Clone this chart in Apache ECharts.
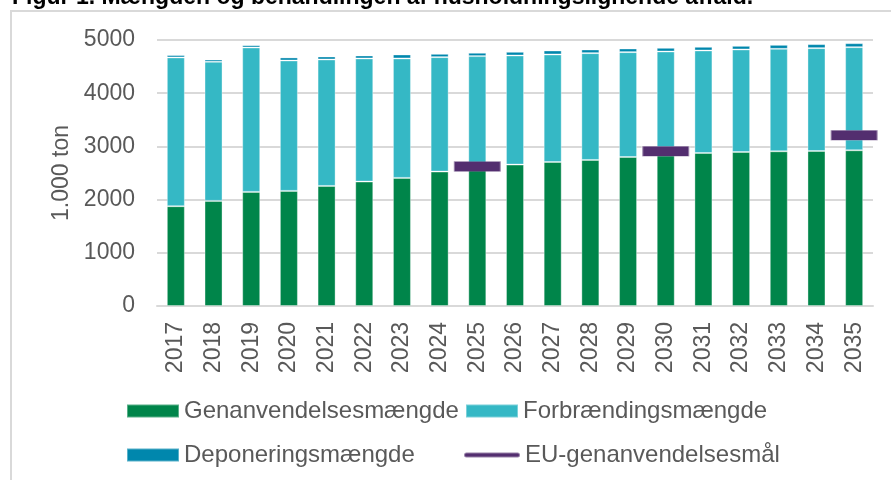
<!DOCTYPE html>
<html>
<head>
<meta charset="utf-8">
<script src="https://cdn.jsdelivr.net/npm/echarts@6/dist/echarts.min.js"></script>
<style>
  html, body { margin: 0; padding: 0; background: #fff; }
  #chart { width: 891px; height: 480px; }
</style>
</head>
<body>
<div id="chart"></div>
<script>
var years = ['2017', '2018', '2019', '2020', '2021', '2022', '2023', '2024', '2025', '2026',
  '2027', '2028', '2029', '2030', '2031', '2032', '2033', '2034', '2035'];
var genanvendelse = [1876, 1976, 2145, 2164, 2257, 2339, 2408, 2527, 2590, 2658,
  2707, 2745, 2801, 2840, 2876, 2895, 2908, 2914, 2927];
var forbraending = [2796, 2615, 2714, 2451, 2377, 2314, 2245, 2151, 2107, 2051,
  2021, 2008, 1971, 1944, 1927, 1927, 1926, 1933, 1938];
var deponering = [45, 43, 43, 57, 56, 56, 75, 62, 63, 69,
  75, 69, 68, 69, 69, 68, 75, 75, 75];
var euMaal = [null, null, null, null, null, null, null, null, 2620, null,
  null, null, null, 2910, null, null, null, null, 3210];

var font = "'Liberation Sans', Arial, sans-serif";
var grey = '#595959';

var chartDom = document.getElementById('chart');
var myChart = echarts.init(chartDom, null, { renderer: 'canvas', devicePixelRatio: 1 });

function legendAt(name, left, top, w, h, icon) {
  return {
    data: [{ name: name, icon: icon || 'rect' }],
    left: left,
    top: top,
    padding: 0,
    itemWidth: w,
    itemHeight: h,
    itemGap: 0,
    selectedMode: false,
    textStyle: { fontFamily: font, fontSize: 24, color: grey, padding: [0, 0, 0, 0] }
  };
}

var barStyle = function (color) {
  return { color: color, borderColor: 'rgba(255,255,255,0.35)', borderWidth: 1 };
};

var option = {
  animation: false,
  backgroundColor: '#fff',
  title: {
    left: 12,
    top: -14,
    padding: 0,
    text: '{b|Figur 1. }{r|Mængden og behandlingen af husholdningslignende affald.}',
    textStyle: {
      rich: {
        b: { fontFamily: font, fontSize: 23, fontWeight: 'bold', color: '#000' },
        r: { fontFamily: font, fontSize: 23, color: '#000' }
      }
    }
  },
  graphic: [{
    type: 'rect',
    z: -1,
    shape: { x: 11, y: 11, width: 900, height: 500 },
    style: { fill: 'none', stroke: '#d9d9d9', lineWidth: 2 }
  }],
  legend: [
    legendAt('Genanvendelsesmængde', 126, 399, 52, 13),
    legendAt('Forbrændingsmængde', 465, 399, 52, 13),
    legendAt('Deponeringsmængde', 126, 443, 52, 13),
    legendAt('EU-genanvendelsesmål', 463, 443, 56, 5,
      'path://M2.5,0H53.5A2.5,2.5,0,0,1,53.5,5H2.5A2.5,2.5,0,0,1,2.5,0Z')
  ],
  grid: { left: 157, right: 18, top: 40, bottom: 174 },
  xAxis: {
    type: 'category',
    data: years,
    axisTick: { show: false },
    axisLine: { lineStyle: { color: '#d9d9d9', width: 2 } },
    axisLabel: { rotate: 90, fontFamily: font, fontSize: 23, color: grey, margin: 16 }
  },
  yAxis: {
    type: 'value',
    min: 0,
    max: 5000,
    interval: 1000,
    name: '1.000 ton',
    nameLocation: 'middle',
    nameRotate: 90,
    nameGap: 80,
    nameTextStyle: { fontFamily: font, fontSize: 23, color: grey },
    axisLine: { show: false },
    axisTick: { show: false },
    axisLabel: {
      fontFamily: font, fontSize: 23, color: grey, margin: 22,
      formatter: function (v) { return String(v); }
    },
    splitLine: { lineStyle: { color: '#d9d9d9', width: 2 } }
  },
  series: [
    {
      name: 'Genanvendelsesmængde',
      type: 'bar',
      stack: 'total',
      barWidth: 18,
      itemStyle: barStyle('#00854A'),
      data: genanvendelse
    },
    {
      name: 'Forbrændingsmængde',
      type: 'bar',
      stack: 'total',
      barWidth: 18,
      itemStyle: barStyle('#35B8C5'),
      data: forbraending
    },
    {
      name: 'Deponeringsmængde',
      type: 'bar',
      stack: 'total',
      barWidth: 18,
      itemStyle: barStyle('#0087AD'),
      data: deponering
    },
    {
      name: 'EU-genanvendelsesmål',
      type: 'scatter',
      z: 5,
      symbol: 'rect',
      symbolSize: [47, 10],
      itemStyle: { color: '#532E6F', opacity: 1, borderColor: 'rgba(255,255,255,0.4)', borderWidth: 1 },
      data: euMaal
    }
  ]
};

option && myChart.setOption(option);
</script>
</body>
</html>
